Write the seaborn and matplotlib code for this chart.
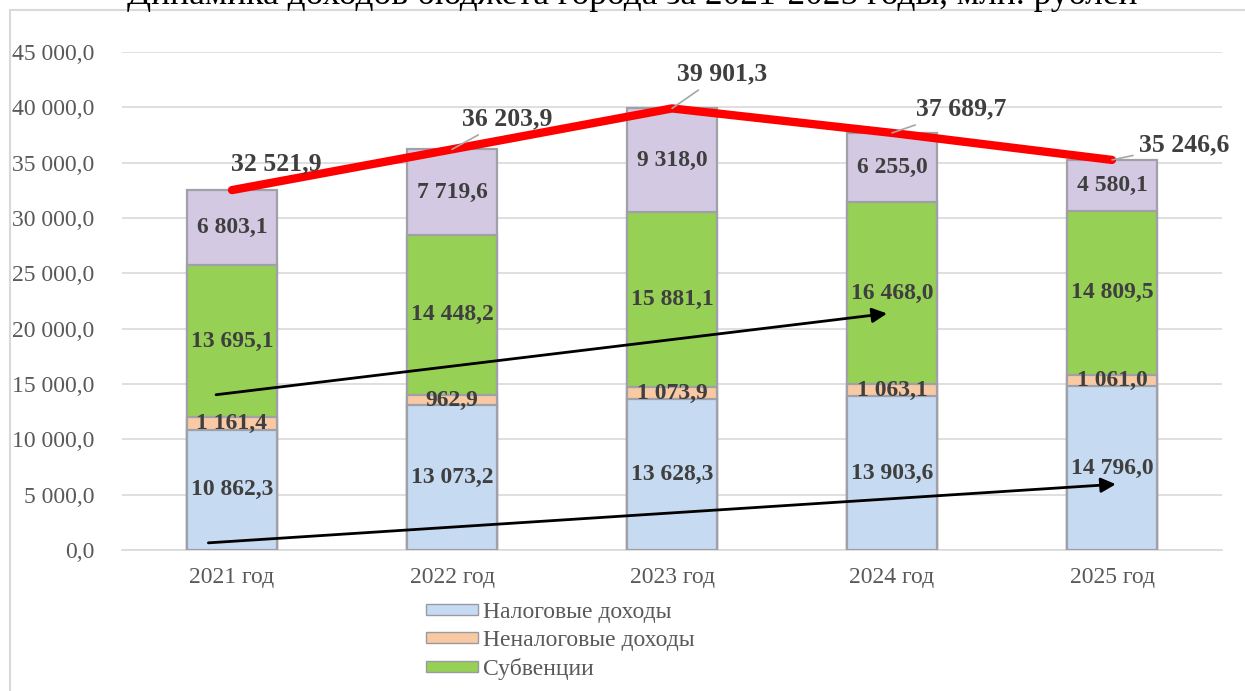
import numpy as np
import pandas as pd
import matplotlib
matplotlib.use("Agg")
import matplotlib.pyplot as plt
from matplotlib.patches import Patch, Rectangle
import seaborn as sns

# --- data ---
YEARS   = ["2021 год", "2022 год", "2023 год", "2024 год", "2025 год"]
TAX     = [10862.3, 13073.2, 13628.3, 13903.6, 14796.0]   # Налоговые доходы
NONTAX  = [1161.4, 962.9, 1073.9, 1063.1, 1061.0]         # Неналоговые доходы
SUBV    = [13695.1, 14448.2, 15881.1, 16468.0, 14809.5]   # Субвенции
OTHER   = [6803.1, 7719.6, 9318.0, 6255.0, 4580.1]        # прочие (4-я серия)
TOTALS  = [32521.9, 36203.9, 39901.3, 37689.7, 35246.6]
LEGEND  = ["Налоговые доходы", "Неналоговые доходы", "Субвенции"]
TITLE   = "Динамика доходов бюджета города за 2021-2025 годы, млн. рублей"

C_TAX, C_NON, C_SUB, C_OTH = "#c6daf1", "#f8c9a3", "#96d055", "#d3c9e2"
GREY_TXT = "#595959"
LBL = "#3f3f3f"

sns.set_theme(style="white")
plt.rcParams["font.family"] = ["Liberation Serif", "DejaVu Serif"]

df = pd.DataFrame({"year": YEARS, "tax": TAX, "non": NONTAX, "sub": SUBV, "oth": OTHER})
df["c1"] = df["tax"]
df["c2"] = df["c1"] + df["non"]
df["c3"] = df["c2"] + df["sub"]
df["c4"] = df["c3"] + df["oth"]

fig = plt.figure(figsize=(12.45, 6.91), dpi=100)
ax = fig.add_axes([122/1245, 1-550/691, 1100/1245, 498/691])

# stacked bars: draw cumulative layers from the top down
for col, colr in [("c4", C_OTH), ("c3", C_SUB), ("c2", C_NON), ("c1", C_TAX)]:
    sns.barplot(data=df, x="year", y=col, color=colr, width=0.41, saturation=1,
                edgecolor="#a0a0a8", linewidth=1.6, ax=ax, zorder=3)

# segment labels
def fmt(v):
    s = f"{v:,.1f}".replace(",", " ").replace(".", ",")
    return s

for i in range(len(YEARS)):
    for lo, hi in [(0, df.c1[i]), (df.c1[i], df.c2[i]), (df.c2[i], df.c3[i]), (df.c3[i], df.c4[i])]:
        ax.text(i, (lo + hi) / 2, fmt(hi - lo), ha="center", va="center",
                fontsize=17, fontweight="bold", color=LBL, zorder=6)

# total line
sns.lineplot(x=np.arange(len(YEARS)), y=TOTALS, color="#ff0000", lw=6,
             ax=ax, zorder=5, solid_capstyle="round")

# total labels (offsets in points)
offs = [(32, 19), (40, 22), (36, 25), (50, 17), (52, 11)]
for i, (t, o) in enumerate(zip(TOTALS, offs)):
    ax.annotate(fmt(t), xy=(i, t), xytext=o, textcoords="offset points",
                ha="center", va="center", fontsize=18.5, fontweight="bold", color=LBL,
                arrowprops=None if i == 0 else dict(arrowstyle="-", color="#a6a6a6", lw=1.2,
                                                    shrinkA=2, shrinkB=0),
                zorder=7)

# trend arrows
arrow_kw = dict(arrowstyle="-|>", color="black", lw=2, mutation_scale=22)
ax.annotate("", xy=(4.03, 5960), xytext=(-0.12, 630), arrowprops=arrow_kw, zorder=8)
ax.annotate("", xy=(2.99, 21400), xytext=(-0.085, 14000), arrowprops=arrow_kw, zorder=8)

ax.set_xlim(-0.5, 4.5)
ax.set_ylim(0, 45000)
ax.set_yticks(np.arange(0, 45001, 5000))
ax.yaxis.set_major_formatter(matplotlib.ticker.FuncFormatter(lambda v, p: fmt(v)))
ax.grid(axis="y", color="#d9d9d9", lw=1.2, zorder=0)
ax.set_axisbelow(True)
for s in ["top", "right", "left"]:
    ax.spines[s].set_visible(False)
ax.spines["bottom"].set_color("#d9d9d9")
ax.spines["bottom"].set_linewidth(1.2)
ax.tick_params(axis="both", length=0, labelsize=17, colors=GREY_TXT)
ax.tick_params(axis="y", pad=20)
ax.tick_params(axis="x", pad=12)
ax.set_xlabel("")
ax.set_ylabel("")

# legend (only three entries visible in the reference)
handles = [Patch(facecolor=c, edgecolor="#9a9aa5", lw=1) for c in (C_TAX, C_NON, C_SUB)]
fig.legend(handles, LEGEND, loc="center", bbox_to_anchor=(0.45, 1-641/691), frameon=False,
           fontsize=17, labelcolor=GREY_TXT, handlelength=2.2, handleheight=0.35,
           handletextpad=0.2, labelspacing=0.3)

# chart frame and clipped title
fig.add_artist(Rectangle((10/1245, -0.2), 1.2, 1.2 - 10/691, transform=fig.transFigure,
                         fill=False, edgecolor="#d9d9d9", lw=1.5))
fig.text(0.508, 1-3.5/691, TITLE, ha="center", va="baseline", fontsize=25.5, color="black")

fig.savefig("out.png", dpi=100)
